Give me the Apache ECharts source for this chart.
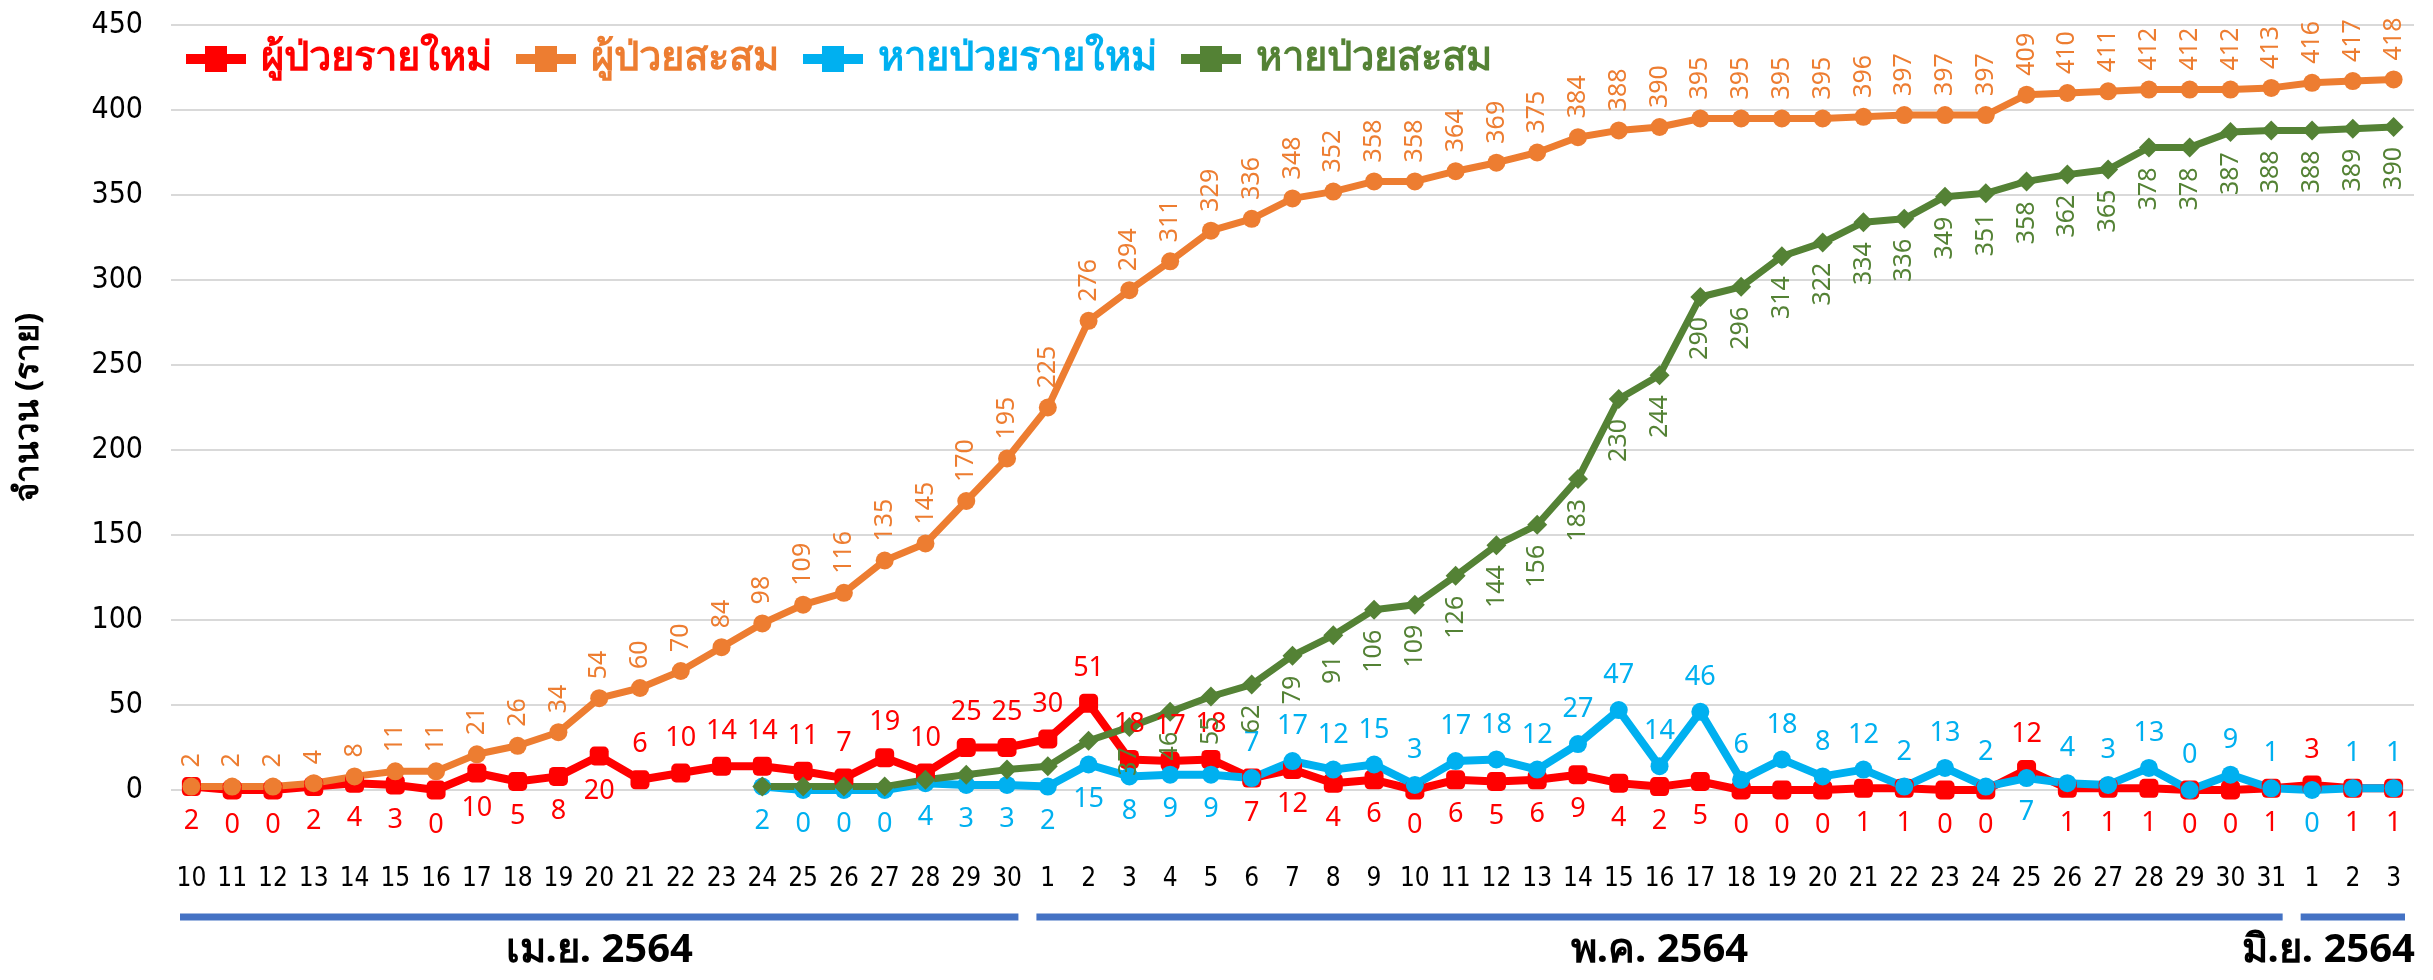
<!DOCTYPE html>
<html>
<head>
<meta charset="utf-8">
<title>ผู้ป่วยและหายป่วย</title>
<script src="https://cdn.jsdelivr.net/npm/echarts@6/dist/echarts.min.js"></script>
<style>
    html, body { margin: 0; padding: 0; width: 100%; height: 100%; overflow: hidden; background: #fff; }
    #main { width: 2433px; height: 980px; }
</style>
</head>
<body>
<div id="main"></div>
<script>
// วันที่ (10 เม.ย. - 3 มิ.ย. 2564)
const days = ['10','11','12','13','14','15','16','17','18','19','20','21','22','23','24','25','26','27','28','29','30',
    '1','2','3','4','5','6','7','8','9','10','11','12','13','14','15','16','17','18','19','20','21','22','23','24','25','26','27','28','29','30','31',
    '1','2','3'];
const monthNames = ['เม.ย. 2564', 'พ.ค. 2564', 'มิ.ย. 2564'];
const monthDays = [21, 31, 3];

const seriesNames = ['ผู้ป่วยรายใหม่', 'ผู้ป่วยสะสม', 'หายป่วยรายใหม่', 'หายป่วยสะสม'];

const newCases = [2,0,0,2,4,3,0,10,5,8,20,6,10,14,14,11,7,19,10,25,25,
    30,51,18,17,18,7,12,4,6,0,6,5,6,9,4,2,5,0,0,0,1,1,0,0,12,1,1,1,0,0,1,
    3,1,1];
const totalCases = [2,2,2,4,8,11,11,21,26,34,54,60,70,84,98,109,116,135,145,170,195,
    225,276,294,311,329,336,348,352,358,358,364,369,375,384,388,390,395,395,395,395,396,397,397,397,409,410,411,412,412,412,413,
    416,417,418];
const newRecovered = [null,null,null,null,null,null,null,null,null,null,null,null,null,null,2,0,0,0,4,3,3,
    2,15,8,9,9,7,17,12,15,3,17,18,12,27,47,14,46,6,18,8,12,2,13,2,7,4,3,13,0,9,1,
    0,1,1];
const totalRecovered = [null,null,null,null,null,null,null,null,null,null,null,null,null,null,2,2,2,2,6,9,12,
    14,29,37,46,55,62,79,91,106,109,126,144,156,183,230,244,290,296,314,322,334,336,349,351,358,362,365,378,378,387,388,
    388,389,390];

const colors = ['#FF0000', '#ED7D31', '#00B0F0', '#548235'];

// ตำแหน่งป้ายกำกับที่ต่างจากค่าปกติ (ดัชนีวัน)
const redTop = [11,12,13,14,15,16,17,18,19,20,21,22,23,24,25,45,52];
const blueBottom = [14,15,16,17,18,19,20,21,22,23,24,25,45,52];
const greenHidden = [14,15,16,17,18,19,20,21,22];

const numFont = "'Noto Sans', sans-serif";
const thaiFont = "'Noto Sans', 'DejaVu Sans', sans-serif";
const narrowFont = "'Liberation Sans Narrow', 'DejaVu Sans Condensed', sans-serif";

// ไอคอนคำอธิบาย: เส้นหนาพร้อมจุดตรงกลาง
const legendIcon = 'path://M0,8 H19 V0 H41 V8 H60 V18 H41 V26 H19 V18 H0 Z';

function withLabels(values, fn) {
    return values.map((v, i) => v == null ? '-' : Object.assign({ value: v }, fn(i)));
}

const chart = echarts.init(document.getElementById('main'));

const option = {
    animation: false,
    backgroundColor: '#fff',
    grid: { left: 171, right: 19, top: 25, bottom: 190 },
    legend: {
        left: 181, top: 34,
        icon: legendIcon,
        itemWidth: 60, itemHeight: 26, itemGap: 24,
        textStyle: { fontSize: 40, fontWeight: 'bold', fontFamily: thaiFont, padding: [0, 0, 0, 10] },
        data: seriesNames.map((n, i) => ({ name: n, textStyle: { color: colors[i] } }))
    },
    xAxis: {
        type: 'category',
        data: days,
        axisLine: { show: false },
        axisTick: { show: false },
        axisLabel: { margin: 76, interval: 0, fontSize: 26, color: '#000', fontFamily: narrowFont }
    },
    yAxis: {
        type: 'value',
        min: 0, max: 450, interval: 50,
        name: 'จำนวน (ราย)',
        nameLocation: 'middle',
        nameRotate: 90,
        nameGap: 126,
        nameTextStyle: { fontSize: 33, fontWeight: 'bold', color: '#000', fontFamily: thaiFont },
        axisLine: { show: false },
        axisTick: { show: false },
        axisLabel: { margin: 28, fontSize: 30, color: '#000', fontFamily: narrowFont },
        splitLine: { lineStyle: { color: '#D9D9D9', width: 2 } }
    },
    series: [
        {
            name: seriesNames[0], type: 'line',
            data: withLabels(newCases, i => ({ label: { position: redTop.includes(i) ? 'top' : 'bottom' } })),
            symbol: 'roundRect', symbolSize: 19,
            lineStyle: { width: 8, color: colors[0] },
            itemStyle: { color: colors[0] },
            label: { show: true, distance: 12, fontSize: 27, color: colors[0], fontFamily: numFont }
        },
        {
            name: seriesNames[1], type: 'line',
            data: totalCases,
            symbol: 'circle', symbolSize: 18,
            lineStyle: { width: 7, color: colors[1] },
            itemStyle: { color: colors[1] },
            label: { show: true, position: 'top', rotate: 90, align: 'left', verticalAlign: 'middle',
                distance: 10, fontSize: 25, color: colors[1], fontFamily: numFont }
        },
        {
            name: seriesNames[2], type: 'line',
            data: withLabels(newRecovered, i => ({ label: { position: blueBottom.includes(i) ? 'bottom' : 'top' } })),
            symbol: 'circle', symbolSize: 18,
            lineStyle: { width: 8, color: colors[2] },
            itemStyle: { color: colors[2] },
            label: { show: true, distance: 12, fontSize: 27, color: colors[2], fontFamily: numFont }
        },
        {
            name: seriesNames[3], type: 'line',
            data: withLabels(totalRecovered, i => ({ label: { show: !greenHidden.includes(i) } })),
            symbol: 'diamond', symbolSize: 20,
            lineStyle: { width: 7, color: colors[3] },
            itemStyle: { color: colors[3] },
            label: { show: true, position: 'bottom', rotate: 90, align: 'right', verticalAlign: 'middle',
                distance: 10, fontSize: 25, color: colors[3], fontFamily: numFont }
        }
    ]
};

chart.setOption(option);

// แถบเดือนใต้แกน X
const baseY = chart.convertToPixel({ yAxisIndex: 0 }, 0);
const band = chart.convertToPixel({ xAxisIndex: 0 }, 1) - chart.convertToPixel({ xAxisIndex: 0 }, 0);
const graphics = [];
let start = 0;
monthDays.forEach((n, k) => {
    const x0 = chart.convertToPixel({ xAxisIndex: 0 }, start) - band / 2 + 9;
    const x1 = chart.convertToPixel({ xAxisIndex: 0 }, start + n - 1) + band / 2 - 9;
    graphics.push({
        type: 'line',
        shape: { x1: x0, y1: baseY + 127, x2: x1, y2: baseY + 127 },
        style: { stroke: '#4472C4', lineWidth: 7 }
    });
    const last = k === monthDays.length - 1;
    graphics.push({
        type: 'text',
        x: last ? x1 + 10 : (x0 + x1) / 2,
        y: baseY + 161,
        style: {
            text: monthNames[k],
            fontSize: 40, fontWeight: 'bold', fontFamily: thaiFont, fill: '#000',
            align: last ? 'right' : 'center', verticalAlign: 'middle'
        }
    });
    start += n;
});
chart.setOption({ graphic: graphics });
</script>
</body>
</html>
